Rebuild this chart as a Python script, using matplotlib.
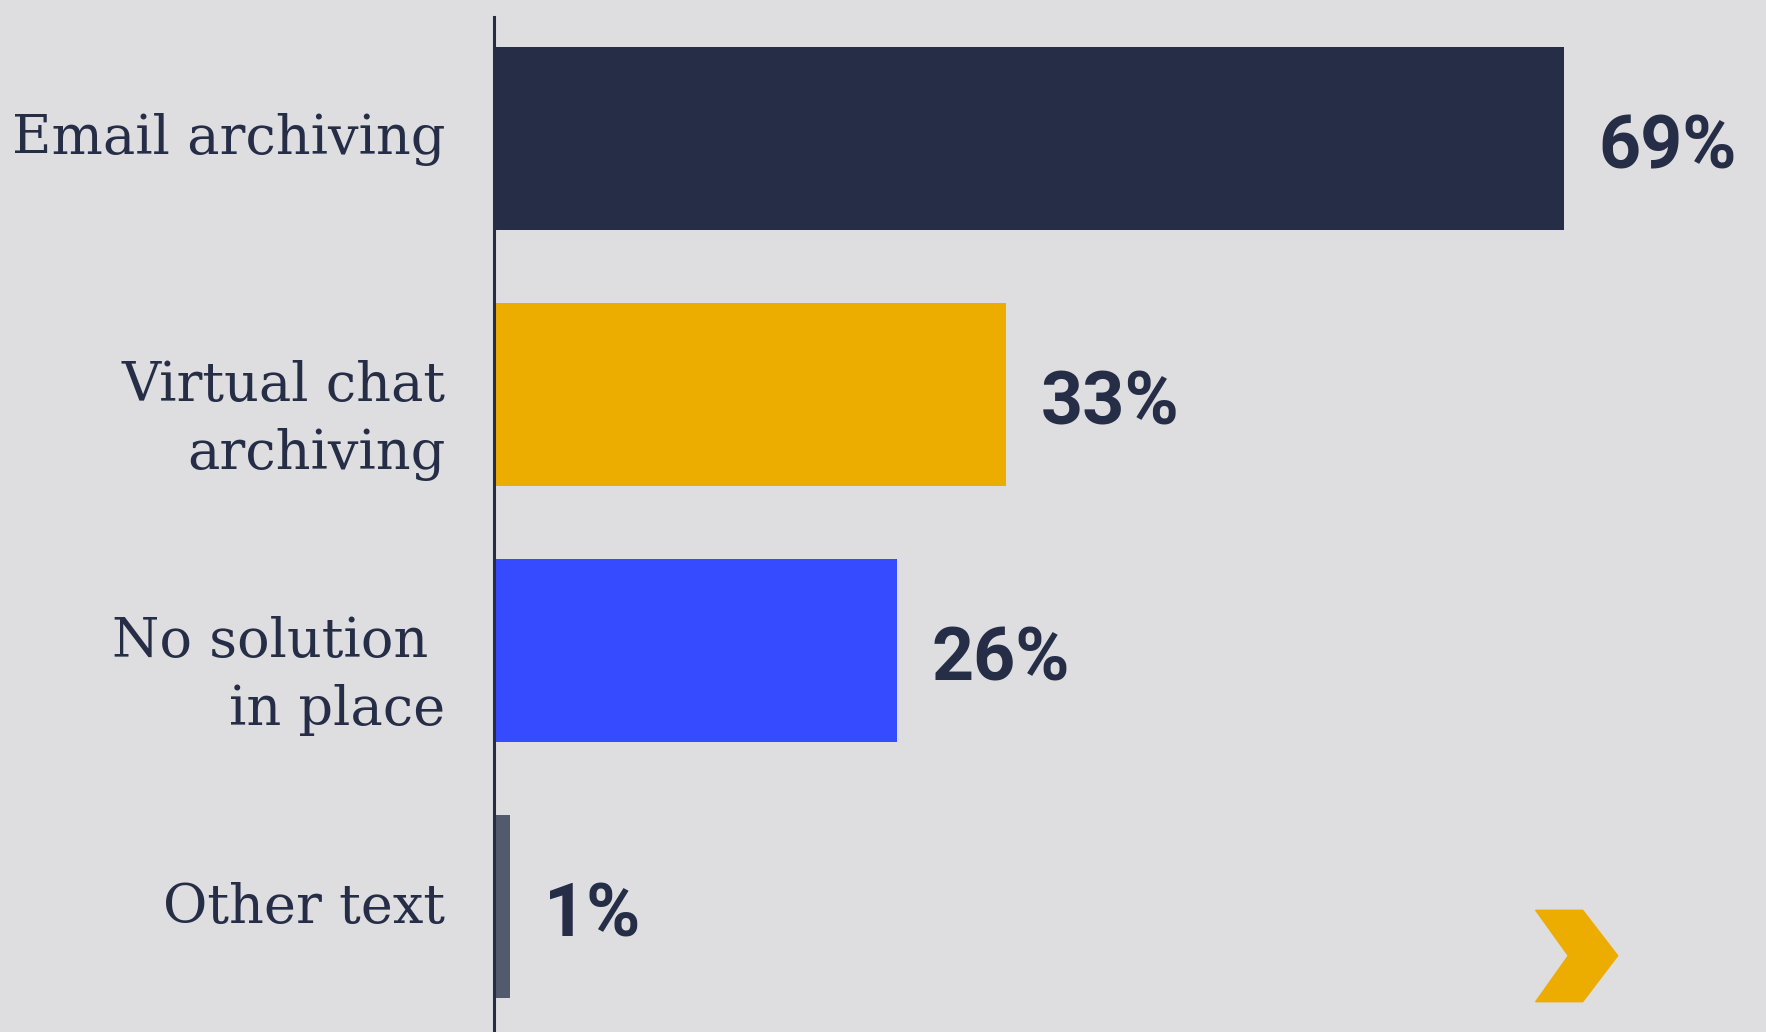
import matplotlib
matplotlib.use('Agg')
import matplotlib.pyplot as plt
from matplotlib.patches import Polygon

categories = ['Email archiving', 'Virtual chat\narchiving', 'No solution \nin place', 'Other text']
values = [69, 33, 26, 1]
bar_colors = ['#262D47', '#EDAC00', '#364BFF', '#525A6E']

navy = '#262D47'
bg = '#DEDEE0'

fig = plt.figure(figsize=(17.66, 10.32), dpi=100, facecolor=bg)
ax = fig.add_axes([494 / 1766, 0, 1 - 494 / 1766, 1 - 17 / 1032])
ax.set_facecolor(bg)

y = range(len(values))
ax.barh(y, values, height=0.713, color=bar_colors)

ax.set_xlim(0, 82.06)
ax.set_ylim(3.49, -0.475)

# only the left axis line stays
for side in ['top', 'right', 'bottom']:
  ax.spines[side].set_visible(False)
ax.spines['left'].set_color(navy)
ax.spines['left'].set_linewidth(2.2)
ax.set_xticks([])
ax.set_yticks([])

# category names, right aligned next to the axis line
# (two-line names hang from just above the bar centre, single lines are centred)
for i, name in enumerate(categories):
  if '\n' in name:
    va, dy = 'top', 25
  else:
    va, dy = 'center', -1
  ax.annotate(name, xy=(0, i), xycoords=ax.get_yaxis_transform(),
              xytext=(-35, dy), textcoords='offset points',
              ha='right', va=va, multialignment='right',
              fontsize=39, family='DejaVu Serif', color=navy,
              linespacing=1.4)

# value labels at the end of each bar
for i, v in enumerate(values):
  ax.annotate(f'{v}%', xy=(v, i), xytext=(25, -7), textcoords='offset points',
              ha='left', va='center', fontsize=53, family='Roboto',
              fontweight='bold', color=navy)

# small chevron mark in the corner
pts = [(1535.7, 910.3), (1582.7, 910.3), (1617.7, 955.7),
       (1582.7, 1001.7), (1535.7, 1001.7), (1568.3, 955.7)]
pts = [(px / 1766, 1 - py / 1032) for px, py in pts]
fig.patches.append(Polygon(pts, closed=True, transform=fig.transFigure,
                           facecolor='#EDAC00', edgecolor='#EDAC00',
                           linewidth=1, joinstyle='round'))

plt.savefig('out.png', dpi=100, facecolor=bg)
